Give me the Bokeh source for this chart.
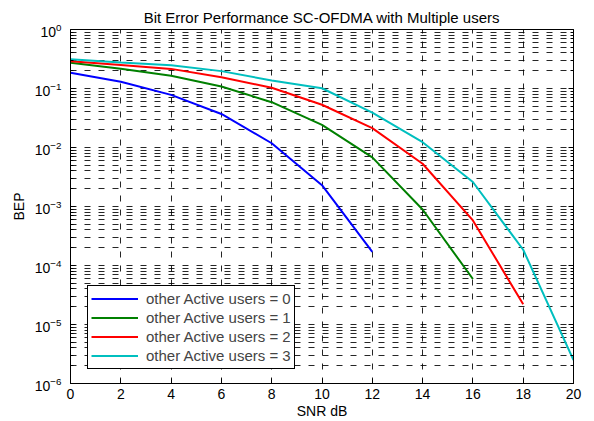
from bokeh.plotting import figure
from bokeh.models import FixedTicker, LogAxis, Legend, LegendItem, Range1d
from bokeh.embed import file_html
from bokeh.resources import INLINE

# ---- data ----
snr_0 = [0, 2, 4, 6, 8, 10, 12]
bep_0 = [0.185, 0.13, 0.078, 0.037, 0.0118, 0.0023, 1.7e-4]

snr_1 = [0, 2, 4, 6, 8, 10, 12, 14, 16]
bep_1 = [0.272, 0.216, 0.164, 0.108, 0.0586, 0.0242, 0.0068, 8.9e-4, 5.9e-5]

snr_2 = [0, 2, 4, 6, 8, 10, 12, 14, 16, 18]
bep_2 = [0.29, 0.25, 0.215, 0.155, 0.103, 0.053, 0.0213, 0.0053, 5.8e-4, 2.2e-5]

snr_3 = [0, 2, 4, 6, 8, 10, 12, 14, 16, 18, 20]
bep_3 = [0.314, 0.276, 0.248, 0.197, 0.137, 0.101, 0.039, 0.0123, 0.0026, 1.85e-4, 2.5e-6]

labels = ["other Active users = 0", "other Active users = 1",
          "other Active users = 2", "other Active users = 3"]
colors = ["#0000ff", "#008000", "#ff0000", "#00bfbf"]

x_ticks = [0, 2, 4, 6, 8, 10, 12, 14, 16, 18, 20]
decades = [-6, -5, -4, -3, -2, -1, 0]
y_major = [10.0 ** d for d in decades]
y_minor = [m * 10.0 ** d for d in decades[:-1] for m in range(2, 10)]

FONT = "Liberation Sans"

p = figure(width=594, height=421, output_backend="svg", toolbar_location=None,
           y_axis_type="log", x_range=Range1d(0, 20), y_range=Range1d(1e-6, 1),
           min_border_left=70, min_border_right=21, min_border_top=29,
           min_border_bottom=38, title="Bit Error Performance SC-OFDMA with Multiple users")

p.title.align = "center"
p.title.text_font = FONT
p.title.text_font_size = "15px"
p.title.text_font_style = "normal"
p.title.text_color = "black"
p.title.standoff = 8

xt = FixedTicker(ticks=x_ticks, minor_ticks=[])
yt = FixedTicker(ticks=y_major, minor_ticks=y_minor)

p.xaxis.ticker = xt
p.yaxis.ticker = yt
p.xgrid.ticker = xt
p.ygrid.ticker = yt

for ax in (p.xaxis[0], p.yaxis[0]):
    ax.axis_line_color = "black"
    ax.major_tick_in = 5
    ax.major_tick_out = 0
    ax.minor_tick_in = 3
    ax.minor_tick_out = 0
    ax.major_tick_line_color = "black"
    ax.minor_tick_line_color = "black"
    ax.major_label_text_font = FONT
    ax.major_label_text_font_size = "14px"
    ax.major_label_text_color = "black"
    ax.axis_label_text_font = FONT
    ax.axis_label_text_font_size = "14px"
    ax.axis_label_text_font_style = "normal"
    ax.axis_label_text_color = "black"

p.xaxis.axis_label = "SNR dB"
p.yaxis.axis_label = "BEP"
p.xaxis.major_label_standoff = 5
p.yaxis.major_label_standoff = 9
p.xaxis.axis_label_standoff = 1
p.yaxis.axis_label_standoff = 5

# box ticks on the right (labels invisible)
right = LogAxis(ticker=yt, major_label_text_font_size="1px", major_label_text_alpha=0,
                major_tick_in=5, major_tick_out=0, minor_tick_in=3, minor_tick_out=0,
                axis_line_color="black", major_label_standoff=0)
p.add_layout(right, "right")

for g in (p.xgrid[0], p.ygrid[0]):
    g.grid_line_color = "black"
    g.grid_line_alpha = 0.85
    g.grid_line_dash = "6 8"
    g.grid_line_width = 1
p.ygrid.minor_grid_line_color = "black"
p.ygrid.minor_grid_line_alpha = 0.85
p.ygrid.minor_grid_line_dash = "6 8"
p.ygrid.minor_grid_line_width = 1

p.outline_line_color = "black"
p.outline_line_alpha = 1
p.background_fill_color = "white"
p.border_fill_color = "white"

series = [(snr_0, bep_0), (snr_1, bep_1), (snr_2, bep_2), (snr_3, bep_3)]
items = []
for (xs, ys), c, lab in zip(series, colors, labels):
    r = p.line(xs, ys, line_color=c, line_width=2)
    items.append(LegendItem(label=lab, renderers=[r]))

legend = Legend(items=items, location=(17, 14), border_line_color="black",
                border_line_alpha=1, background_fill_alpha=1,
                label_text_font=FONT, label_text_font_size="15px",
                glyph_width=47, glyph_height=19, label_height=19, spacing=0,
                padding=3, margin=0, label_standoff=8)
p.add_layout(legend, "center")

open("out.html", "w", encoding="utf-8").write(file_html(p, INLINE))
